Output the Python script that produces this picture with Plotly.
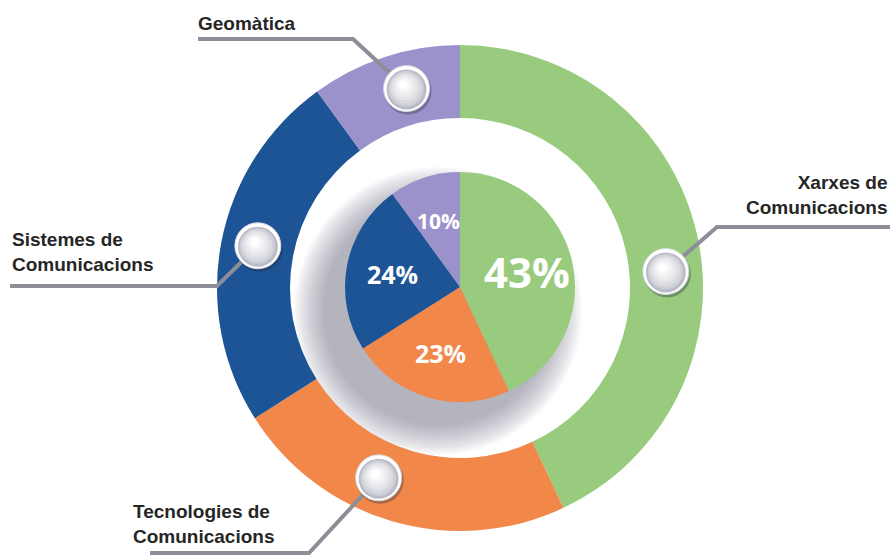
import math
import plotly.graph_objects as go

# ---------------- data ----------------
categories = ["Xarxes de Comunicacions", "Tecnologies de Comunicacions",
              "Sistemes de Comunicacions", "Geomàtica"]
values = [43, 23, 24, 10]
pct_labels = ["43%", "23%", "24%", "10%"]
label_lines = [["Xarxes de", "Comunicacions"], ["Tecnologies de", "Comunicacions"],
               ["Sistemes de", "Comunicacions"], ["Geomàtica"]]

# ---------------- style / layout ----------------
colors = ["#98CB7E", "#F2874A", "#1C5496", "#9B92CC"]
pct_sizes = [42, 25, 25, 21]
W, H = 890, 556
CX, CY = 460, 288          # ring centre (px)
R_OUT, R_IN = 243, 170     # ring radii (px)
PCX, PCY, R_PIE = 460, 287, 115
sphere_nudge = [8, 7, 1, 3]          # deg shift of the decorative spheres
sphere_r = 23
leader = [  # (elbow, end) in px
    ((717, 227), (890, 227)),
    ((309, 553), (150, 553)),
    ((217, 286), (10, 286)),
    ((353, 39), (198, 39)),
]
text_anchor = [  # x, y, xanchor
    (889, 195, "right"),
    (131, 524, "left"),
    (10, 252, "left"),
    (196, 23, "left"),
]
LINE_COL = "#8d8f98"
TEXT_COL = "#262626"

total = sum(values)
mid_angles = []
acc = 0
for v in values:
    mid_angles.append(360.0 * (acc + v / 2) / total)
    acc += v


def polar(cx, cy, r, ang):
    a = math.radians(ang)
    return cx + r * math.sin(a), cy - r * math.cos(a)


def dom(cx, cy, r):
    return dict(x=[(cx - r) / W, (cx + r) / W], y=[1 - (cy + r) / H, 1 - (cy - r) / H])


fig = go.Figure()
fig.add_trace(go.Pie(values=values, labels=categories, sort=False, direction="clockwise",
                     rotation=0, hole=R_IN / R_OUT, textinfo="none",
                     marker=dict(colors=colors, line=dict(width=0)),
                     domain=dom(CX, CY, R_OUT), showlegend=False))
fig.add_trace(go.Pie(values=values, labels=categories, sort=False, direction="clockwise",
                     rotation=0, textinfo="none",
                     marker=dict(colors=colors, line=dict(width=0)),
                     domain=dom(PCX, PCY, R_PIE), showlegend=False))

shapes = []
# soft shadow of the inner pie (below traces)
n_sh = 16
for k in range(n_sh):
    r = 144 - k * 2
    shapes.append(dict(type="circle", xref="x", yref="y", layer="below",
                       x0=PCX - 22 - r, x1=PCX - 22 + r, y0=PCY + 24 - r, y1=PCY + 24 + r,
                       fillcolor="rgba(110,112,130,0.045)", line=dict(width=0)))

annotations = []
r_mid = (R_OUT + R_IN) / 2
for i in range(len(values)):
    sx, sy = polar(CX, CY, r_mid, mid_angles[i] + sphere_nudge[i])
    (ex, ey), (tx, ty) = leader[i]
    shapes.append(dict(type="path", xref="x", yref="y", layer="above",
                       path=f"M {tx},{ty} L {ex},{ey} L {sx:.1f},{sy:.1f}",
                       line=dict(color=LINE_COL, width=4)))
    # sphere
    shapes.append(dict(type="circle", xref="x", yref="y", layer="above",
                       x0=sx - sphere_r + 1, x1=sx + sphere_r + 2, y0=sy - sphere_r + 2, y1=sy + sphere_r + 3,
                       fillcolor="rgba(40,40,60,0.35)", line=dict(width=0)))
    shapes.append(dict(type="circle", xref="x", yref="y", layer="above",
                       x0=sx - sphere_r, x1=sx + sphere_r, y0=sy - sphere_r, y1=sy + sphere_r,
                       fillcolor="#ffffff", line=dict(width=1, color="#d8d8de")))
    steps = 8
    for k in range(steps):
        t = k / (steps - 1)
        rr = (sphere_r - 3) * (1 - 0.8 * t)
        ox, oy = -3 * t, -5 * t
        c0 = (185, 187, 198)
        col = tuple(int(c0[j] + (255 - c0[j]) * (t ** 0.6)) for j in range(3))
        shapes.append(dict(type="circle", xref="x", yref="y", layer="above",
                           x0=sx + ox - rr, x1=sx + ox + rr, y0=sy + 1 + oy - rr, y1=sy + 1 + oy + rr,
                           fillcolor="rgb(%d,%d,%d)" % col, line=dict(width=0)))
    # label
    ax, ay, xa = text_anchor[i]
    annotations.append(dict(x=ax, y=ay, xref="x", yref="y", xanchor=xa, yanchor="middle",
                            align=xa, showarrow=False, text="<br>".join(label_lines[i]),
                            font=dict(family="Liberation Sans, Arial, sans-serif", size=19,
                                      color=TEXT_COL, weight="bold")))
    # percentage in the inner pie
    px_, py_ = polar(PCX, PCY, R_PIE * 0.6, mid_angles[i])
    annotations.append(dict(x=px_, y=py_, xref="x", yref="y", xanchor="center", yanchor="middle",
                            showarrow=False, text=pct_labels[i],
                            font=dict(family="Open Sans, sans-serif", size=pct_sizes[i],
                                      color="white", weight="bold")))

fig.update_layout(
    width=W, height=H, margin=dict(l=0, r=0, t=0, b=0),
    paper_bgcolor="white", plot_bgcolor="rgba(0,0,0,0)",
    xaxis=dict(range=[0, W], visible=False, fixedrange=True, domain=[0, 1]),
    yaxis=dict(range=[H, 0], visible=False, fixedrange=True, domain=[0, 1]),
    shapes=shapes, annotations=annotations, showlegend=False,
)
fig.write_html("out.html", config={"displayModeBar": False},
               post_script="document.body.style.margin='0px';document.body.style.overflow='hidden';")
